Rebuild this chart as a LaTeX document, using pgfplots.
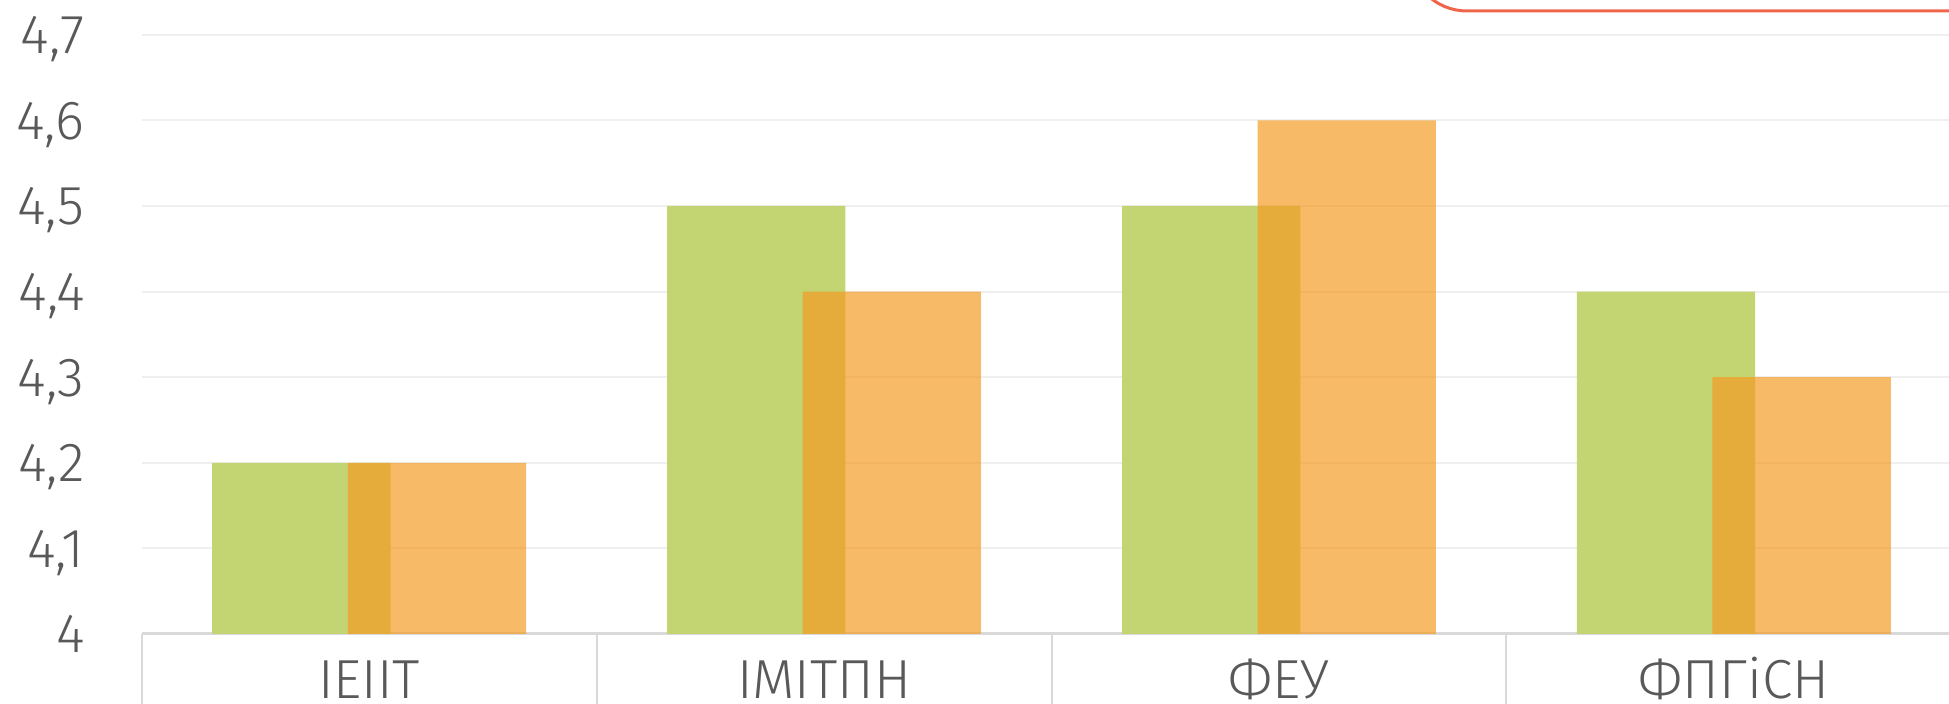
\documentclass[border=0pt]{standalone}
\usepackage{pgfplots}
\pgfplotsset{compat=1.18}
\usepackage{fontspec}
\setmainfont{Fira Sans Light}
\definecolor{gr}{HTML}{C3D473}
\definecolor{orb}{HTML}{F49C26}
\definecolor{lab}{HTML}{595959}
\definecolor{leg}{HTML}{F0654A}
\definecolor{gridc}{HTML}{EFEFEF}
\definecolor{sepc}{HTML}{D9D9D9}
\begin{document}
\begin{tikzpicture}
\path[use as bounding box] (-70.85pt,-35pt) rectangle (903.65pt,317pt);
\clip (-70.85pt,-35pt) rectangle (903.65pt,317pt);
\begin{axis}[
  at={(0pt,0pt)}, anchor=south west,
  scale only axis,
  width=909.8pt, height=299.6pt,
  xmin=-0.5, xmax=3.5,
  ymin=4, ymax=4.7,
  ybar, bar width=0.392,
  axis x line*=bottom,
  axis y line*=left,
  y axis line style={draw=none},
  x axis line style={draw=sepc, line width=1.5pt, -},
  xtick={0,1,2,3},
  xticklabels={ІЕІІТ,ІМІТПН,ФЕУ,ФПГіСН},
  minor xtick={-0.5,0.5,1.5,2.5,3.5},
  tick align=outside,
  major tick length=0pt,
  minor tick length=45pt,
  minor tick style={draw=sepc, line width=1pt},
  ytick={4,4.1,4.2,4.3,4.4,4.5,4.6,4.7},
  ymajorgrids,
  grid style={draw=gridc, line width=1pt},
  /pgf/number format/use comma,
  /pgf/number format/assume math mode=true,
  ticklabel style={font=\fontsize{27.5}{33}\selectfont, text=lab, inner sep=0pt},
  xticklabel style={anchor=base, yshift=-32.35pt},
  yticklabel style={anchor=base east, xshift=-28.35pt, yshift=-9.5pt},
]
\addplot[fill=gr, draw=none, bar shift=-0.149] coordinates {(0,4.2) (1,4.5) (2,4.5) (3,4.4)};
\addplot[fill=orb, fill opacity=0.7, draw=none, bar shift=0.149] coordinates {(0,4.2) (1,4.4) (2,4.6) (3,4.3)};
\end{axis}
\draw[leg, line width=1.5pt, rounded corners=29pt] (633.65pt,380pt) -- (633.65pt,311.5pt) -- (950pt,311.5pt);
\end{tikzpicture}
\end{document}
